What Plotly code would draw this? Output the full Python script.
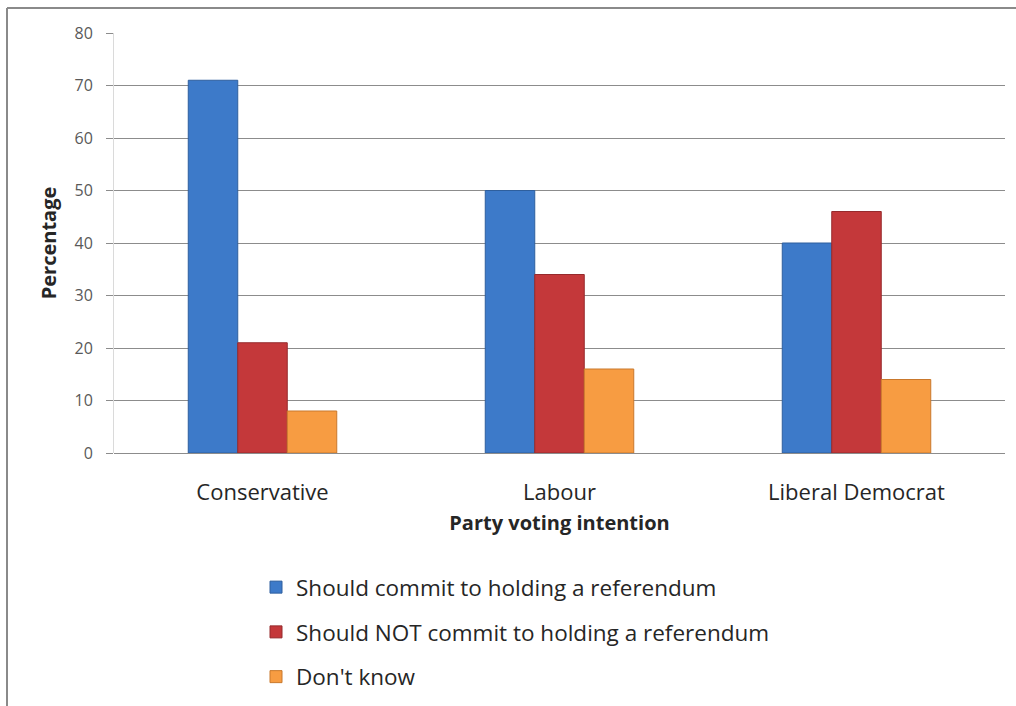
import plotly.graph_objects as go

categories = ["Conservative", "Labour", "Liberal Democrat"]
series_names = [
    "Should commit to holding a referendum",
    "Should NOT commit to holding a referendum",
    "Don't know",
]
commit = [71, 50, 40]
not_commit = [21, 34, 46]
dont_know = [8, 16, 14]
y_ticks = [0, 10, 20, 30, 40, 50, 60, 70, 80]

colors = ["#3D7AC9", "#C4383A", "#F79C42"]
edges = ["#2E5F9E", "#962A2C", "#C9782C"]

FONT = "Open Sans"

fig = go.Figure()
for i, (name, vals) in enumerate(zip(series_names, [commit, not_commit, dont_know])):
    fig.add_trace(go.Bar(
        x=categories, y=vals, name=name,
        marker=dict(color=colors[i], line=dict(color=edges[i], width=1)),
        legendgroup=f"g{i}",
    ))

W, H = 1016, 706
L, R, T, B = 114, 11, 33, 253
pw, ph = W - L - R, H - T - B

fig.update_layout(
    width=W, height=H,
    margin=dict(l=L, r=R, t=T, b=B, autoexpand=False),
    paper_bgcolor="white", plot_bgcolor="white",
    barmode="group", bargap=0.5, bargroupgap=0,
    font=dict(family=FONT, color="#262626"),
    showlegend=True,
    legend=dict(
        orientation="v", x=(256 - L) / pw, xanchor="left",
        y=-(566 - 453) / ph, yanchor="top",
        traceorder="grouped", tracegroupgap=12.5,
        font=dict(family=FONT, size=22.5, color="#262626"),
        itemwidth=30, bgcolor="rgba(0,0,0,0)",
    ),
    xaxis=dict(
        showgrid=False, showline=False, ticks="",
        ticklabelstandoff=24,
        tickfont=dict(family=FONT, size=22, color="#262626"),
        title=dict(text="<b>Party voting intention</b>", standoff=10,
                   font=dict(family=FONT, size=20, color="#262626")),
    ),
    yaxis=dict(
        range=[0, 80], tickvals=y_ticks, ticktext=[str(v) for v in y_ticks],
        showgrid=True, gridcolor="#8C8C8C", gridwidth=1,
        zeroline=True, zerolinecolor="#8C8C8C", zerolinewidth=1,
        showline=True, linecolor="#DADADA", linewidth=1,
        ticks="outside", ticklen=7, tickcolor="#8C8C8C",
        ticklabelstandoff=10,
        tickfont=dict(family=FONT, size=16, color="#595959"),
        title=dict(text="<b>Percentage</b>", standoff=12,
                   font=dict(family=FONT, size=20, color="#262626")),
    ),
    shapes=[
        dict(type="line", xref="paper", yref="paper",
             x0=(7 - L) / pw, x1=(W - L) / pw,
             y0=1 + (T - 8) / ph, y1=1 + (T - 8) / ph,
             line=dict(color="#8A8A8A", width=2)),
        dict(type="line", xref="paper", yref="paper",
             x0=(7 - L) / pw, x1=(7 - L) / pw,
             y0=1 + (T - 8) / ph, y1=-(H - T - ph) / ph,
             line=dict(color="#8A8A8A", width=2)),
    ],
)

fig.write_html("out.html")
